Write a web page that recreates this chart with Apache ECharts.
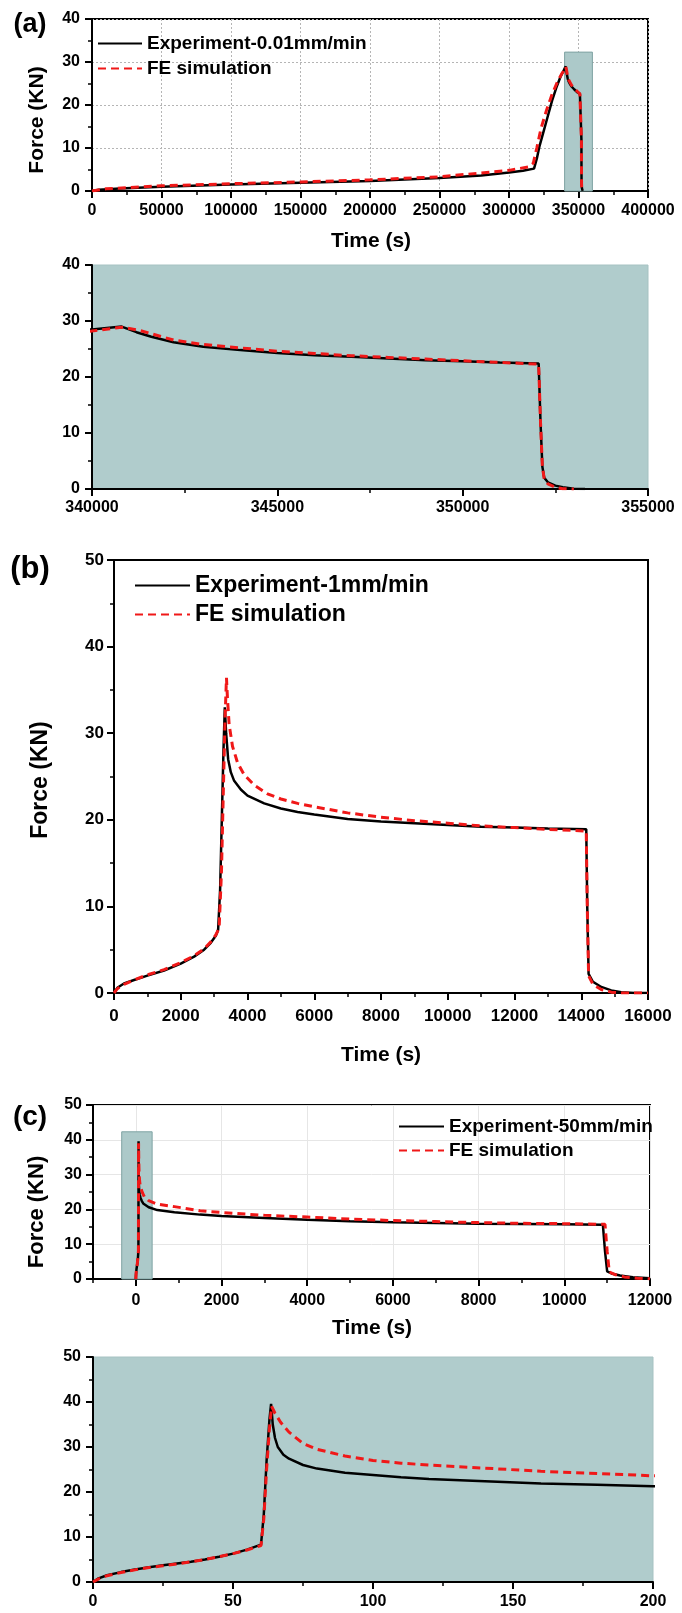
<!DOCTYPE html>
<html><head><meta charset="utf-8">
<script src="https://cdn.jsdelivr.net/npm/echarts@6/dist/echarts.min.js"></script>
<style>html,body{margin:0;padding:0;background:#fff}#chart{width:682px;height:1613px}</style>
</head><body><div id="chart"></div>
<script>
// ---------- Panel (a): 0.01 mm/min ----------
const aTimeExp  = [0,5000,20000,50000,100000,150000,200000,250000,280000,300000,310000,318000,320000,322000,325000,328000,331000,334000,337000,339000,340000,340800,341200,341600,342200,343000,344000,345000,346000,347000,348000,349000,350000,351000,352050,352100,352150,352200,352300,352500,352700,353000,353300];
const aForceExp = [0,0.3,0.6,1.0,1.5,1.9,2.3,3.0,3.6,4.3,4.7,5.2,7.5,10.5,14.0,17.5,21.0,24.0,26.5,27.8,28.5,29.0,28.0,27.2,26.2,25.4,24.8,24.3,23.9,23.6,23.3,23.0,22.8,22.6,22.4,12,4,2.0,1.2,0.6,0.3,0.05,0];
const aTimeFE   = [0,10000,50000,100000,150000,200000,250000,300000,314000,317500,320000,323000,327000,331000,335000,338000,340000,340800,341300,342200,343000,344000,345000,346000,347000,348000,349000,350000,351000,352050,352100,352150,352200,352300,352500,352700,353000];
const aForceFE  = [0,0.5,1.2,1.7,2.1,2.6,3.3,4.8,5.6,6.5,10,14.5,18.8,22.5,25.5,27.3,28.2,28.9,28.3,26.6,25.8,25.2,24.6,24.2,23.8,23.5,23.2,22.9,22.6,22.3,12,4,1.8,0.9,0.3,0.05,0];
const aZoomBox  = [340000, 360000, 32.3];

// ---------- Panel (b): 1 mm/min ----------
const bTimeExp  = [0,100,300,600,1000,1500,2000,2400,2700,2900,3050,3120,3180,3230,3280,3320,3360,3420,3500,3600,3800,4000,4500,5000,5500,6000,7000,8000,9000,10000,11000,12000,13000,14150,14180,14220,14350,14600,14900,15200,15600,16000];
const bForceExp = [0,0.6,1.1,1.5,2.0,2.6,3.4,4.2,5.0,5.8,6.6,7.3,12,20,28,33,30,27,25.5,24.5,23.5,22.8,21.9,21.3,20.9,20.6,20.1,19.8,19.6,19.4,19.2,19.1,19.0,18.9,10,2.2,1.3,0.7,0.3,0.1,0,0];
const bTimeFE   = [0,100,300,600,1000,1500,2000,2400,2700,2900,3050,3150,3220,3280,3330,3370,3400,3450,3550,3700,3900,4200,4600,5000,5500,6000,7000,8000,9000,10000,11000,12000,13000,14150,14180,14220,14350,14600,14900,15200,16000];
const bForceFE  = [0,0.5,1.0,1.5,2.1,2.7,3.5,4.3,5.1,5.9,6.7,7.5,14,24,32,36.4,34,31,28.5,26.6,25.2,24.0,23.0,22.4,21.9,21.5,20.8,20.3,19.9,19.6,19.3,19.1,18.9,18.7,10,2.0,1.0,0.4,0.1,0,0];

// ---------- Panel (c): 50 mm/min ----------
const cTimeExp  = [0,2,5,10,15,20,25,30,35,40,45,50,55,60,61,62,63,63.6,64.2,65,66,68,70,75,80,90,100,110,120,140,160,180,200,300,500,900,1500,2000,3000,4000,5000,6000,7000,8000,9000,10000,10900,10950,11000,11100,11300,11600,12000];
const cForceExp = [0,0.8,1.5,2.2,2.8,3.3,3.7,4.1,4.5,5.0,5.6,6.3,7.2,8.3,15,27,36,39.6,35,32,30,28.3,27.4,26.0,25.2,24.3,23.8,23.3,22.9,22.4,21.9,21.6,21.3,20.6,19.8,19.2,18.5,18.1,17.5,17.0,16.6,16.3,16.1,15.9,15.8,15.7,15.6,8,2.2,1.6,1.0,0.5,0.2];
const cTimeFE   = [0,2,5,10,15,20,25,30,35,40,45,50,55,60,61,62,63,63.8,65,67,70,75,80,90,100,110,120,140,160,180,200,300,500,900,1500,2000,3000,4000,5000,6000,7000,8000,9000,10000,10950,11000,11050,11200,11400,11700,12000];
const cForceFE  = [0,0.7,1.4,2.1,2.7,3.2,3.6,4.0,4.5,5.0,5.6,6.3,7.1,8.1,14,25,34,39.0,37.5,35.5,33.3,30.8,29.5,28.0,27.0,26.4,26.0,25.3,24.6,24.1,23.6,22.5,21.5,20.8,19.6,19.1,18.3,17.8,17.2,16.8,16.5,16.2,16.0,15.9,15.7,8,2.0,1.2,0.6,0.2,0.05];
const cZoomBox  = [-330, 380, 42.3];

// ---------- Tick positions for panel (c) ----------
const cMajorTicks = [0,2000,4000,6000,8000,10000,12000];
const cMinorTicks = [-1000,1000,3000,5000,7000,9000,11000];

const nameExpA = 'Experiment-0.01mm/min';
const nameExpB = 'Experiment-1mm/min';
const nameExpC = 'Experiment-50mm/min';
const nameFE = 'FE simulation';

function pairs(t, f) { return t.map((x, i) => [x, f[i]]); }

const FONT = '"Liberation Sans", Arial, sans-serif';
const RED = '#f01818';
const TEAL = '#b0cccc';
const plain = v => String(v);

function axis(gridIndex, min, max, interval, fontSize, margin, extra) {
  const o = {
    type: 'value', gridIndex, min, max, interval,
    axisLine: { show: true, onZero: false, lineStyle: { color: '#000', width: 2 } },
    axisTick: { show: true, length: 7, lineStyle: { color: '#000', width: 2 } },
    minorTick: { show: true, splitNumber: 2, length: 4, lineStyle: { color: '#000', width: 1.5 } },
    axisLabel: { color: '#000', fontFamily: FONT, fontWeight: 'bold', fontSize, margin, formatter: plain },
    splitLine: { show: false }
  };
  return Object.assign(o, extra || {});
}
const dotted = { show: true, lineStyle: { color: '#b5b5b5', width: 1, type: [2, 2] } };
const lightGrid = { show: true, lineStyle: { color: '#e6e6e6', width: 1 } };

function expSeries(name, xi, data, box) {
  const s = {
    type: 'line', name, xAxisIndex: xi, yAxisIndex: xi, data, showSymbol: false, symbol: 'none',
    clip: true, lineStyle: { color: '#000', width: 2.5 }, itemStyle: { color: '#000' }, z: 3
  };
  if (box) {
    s.markArea = { silent: true, itemStyle: { color: '#acc9c9', borderColor: '#7fa3a3', borderWidth: 1 },
      data: [[{ xAxis: box[0], yAxis: 0 }, { xAxis: box[1], yAxis: box[2] }]] };
  }
  return s;
}
function feSeries(xi, data) {
  return {
    type: 'line', name: nameFE, xAxisIndex: xi, yAxisIndex: xi, data, showSymbol: false, symbol: 'none',
    clip: true, lineStyle: { color: RED, width: 3, type: [8, 5] }, itemStyle: { color: RED }, z: 4
  };
}
function legend(names, left, top, w, fs, gap) {
  return {
    data: names, left, top, orient: 'vertical', itemWidth: w, itemHeight: 12, itemGap: gap, padding: 0,
    selectedMode: false,
    itemStyle: { opacity: 0, borderWidth: 0 },
    textStyle: { fontFamily: FONT, fontWeight: 'bold', fontSize: fs, color: '#000', lineHeight: fs }
  };
}
function txt(text, x, y, fs, rot) {
  return { type: 'text', x, y, rotation: rot || 0,
    style: { text, fontFamily: FONT, fontWeight: 'bold', fontSize: fs, fill: '#000', align: 'center', verticalAlign: 'middle' } };
}

const chart = echarts.init(document.getElementById('chart'), null, { renderer: 'canvas' });
chart.setOption({
  animation: false,
  backgroundColor: '#fff',
  grid: [
    { left: 92, top: 19, width: 556, height: 172, show: true, borderColor: '#000', borderWidth: 2, backgroundColor: 'transparent' },
    { left: 92, top: 265, width: 556, height: 224, show: true, borderColor: '#a6c2c2', borderWidth: 1, backgroundColor: TEAL },
    { left: 114, top: 560, width: 534, height: 433, show: true, borderColor: '#000', borderWidth: 2, backgroundColor: 'transparent' },
    { left: 93, top: 1105, width: 557, height: 174, show: true, borderColor: '#000', borderWidth: 2, backgroundColor: 'transparent' },
    { left: 93, top: 1357, width: 560, height: 225, show: true, borderColor: '#a6c2c2', borderWidth: 1, backgroundColor: TEAL }
  ],
  xAxis: [
    axis(0, 0, 400000, 50000, 16, 12, { position: 'bottom', splitLine: dotted }),
    axis(1, 340000, 355000, 5000, 16, 11, { position: 'bottom' }),
    axis(2, 0, 16000, 2000, 17, 15, { position: 'bottom' }),
    axis(3, -1000, 12000, 1000, 16, 14, {
      position: 'bottom',
      axisLabel: { color: '#000', fontFamily: FONT, fontWeight: 'bold', fontSize: 16, margin: 14, formatter: plain, customValues: cMajorTicks },
      axisTick: { show: true, length: 7, lineStyle: { color: '#000', width: 2 }, customValues: cMajorTicks },
      minorTick: { show: false },
      splitLine: lightGrid
    }),
    axis(4, 0, 200, 50, 16, 12, { position: 'bottom' }),
    axis(3, -1000, 12000, 1000, 16, 14, {
      position: 'bottom',
      axisLine: { show: false },
      axisLabel: { show: false },
      axisTick: { show: true, length: 4, lineStyle: { color: '#000', width: 1.5 }, customValues: cMinorTicks },
      minorTick: { show: false },
      splitLine: { show: false }
    })
  ],
  yAxis: [
    axis(0, 0, 40, 10, 16, 12, { position: 'left', splitLine: dotted }),
    axis(1, 0, 40, 10, 16, 12, { position: 'left' }),
    axis(2, 0, 50, 10, 17, 10, { position: 'left' }),
    axis(3, 0, 50, 10, 16, 11, { position: 'left', splitLine: lightGrid }),
    axis(4, 0, 50, 10, 16, 12, { position: 'left' })
  ],
  legend: [
    legend([nameExpA, nameFE], 97, 34, 44, 19, 6),
    legend([nameExpB, nameFE], 134, 574, 55, 23, 6),
    legend([nameExpC, nameFE], 398, 1117, 45, 19, 5)
  ],
  graphic: [
    txt('(a)', 30, 25, 27),
    txt('(b)', 30, 569, 31),
    txt('(c)', 30, 1117, 28),
    txt('Force (KN)', 37, 120, 21, Math.PI / 2),
    txt('Force (KN)', 41, 780, 23, Math.PI / 2),
    txt('Force (KN)', 37, 1212, 22, Math.PI / 2),
    txt('Time (s)', 371, 241, 21),
    txt('Time (s)', 381, 1055, 21),
    txt('Time (s)', 372, 1328, 21)
  ],
  series: [
    expSeries(nameExpA, 0, pairs(aTimeExp, aForceExp), aZoomBox),
    feSeries(0, pairs(aTimeFE, aForceFE)),
    expSeries(nameExpA, 1, pairs(aTimeExp, aForceExp)),
    feSeries(1, pairs(aTimeFE, aForceFE)),
    expSeries(nameExpB, 2, pairs(bTimeExp, bForceExp)),
    feSeries(2, pairs(bTimeFE, bForceFE)),
    expSeries(nameExpC, 3, pairs(cTimeExp, cForceExp), cZoomBox),
    feSeries(3, pairs(cTimeFE, cForceFE)),
    expSeries(nameExpC, 4, pairs(cTimeExp, cForceExp)),
    feSeries(4, pairs(cTimeFE, cForceFE))
  ]
});
</script></body></html>
